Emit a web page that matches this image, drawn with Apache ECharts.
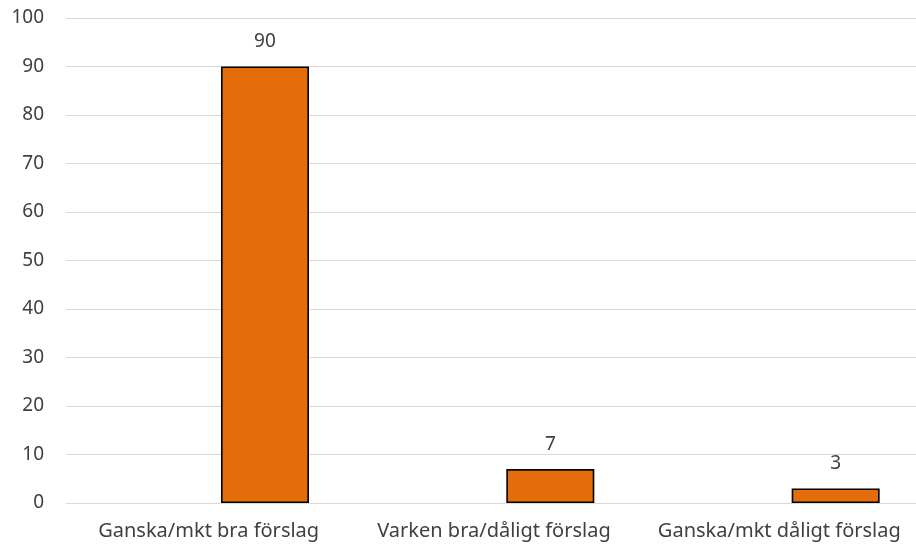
<!DOCTYPE html>
<html>
<head>
<meta charset="utf-8">
<script src="https://cdn.jsdelivr.net/npm/echarts@6/dist/echarts.min.js"></script>
<style>html,body{margin:0;padding:0;background:#fff;overflow:hidden;width:916px;height:544px;}#c{width:922px;height:544px;}</style>
</head>
<body>
<div id="c"></div>
<script>
const categories = ["Ganska/mkt bra förslag", "Varken bra/dåligt förslag", "Ganska/mkt dåligt förslag"];
const emptySeries = [null, null, null];
const values = [90, 7, 3];
const yTicks = [0, 10, 20, 30, 40, 50, 60, 70, 80, 90, 100];

const chart = echarts.init(document.getElementById('c'), null, {renderer: 'canvas'});
const font = '"Noto Sans", sans-serif';
chart.setOption({
  animation: false,
  backgroundColor: '#ffffff',
  grid: {left: 66, right: 0, top: 18, bottom: 41, containLabel: false},
  xAxis: {
    type: 'category',
    data: categories,
    axisLine: {show: true, lineStyle: {color: '#D9D9D9', width: 1}},
    axisTick: {show: false},
    axisLabel: {color: '#404040', fontSize: 20, fontFamily: font, margin: 18, interval: 0}
  },
  yAxis: {
    type: 'value',
    min: yTicks[0],
    max: yTicks[yTicks.length - 1],
    interval: 10,
    axisLine: {show: false},
    axisTick: {show: false},
    splitLine: {lineStyle: {color: '#D9D9D9', width: 1}},
    axisLabel: {color: '#404040', fontSize: 19, fontFamily: font, margin: 22}
  },
  series: [
    {type: 'bar', data: emptySeries, barWidth: 88, barGap: '28%'},
    {
      type: 'bar', data: values, barWidth: 88, barGap: '28%',
      itemStyle: {color: '#E46C0A', borderColor: '#000000', borderWidth: 1.6},
      label: {show: true, position: 'top', distance: 15, color: '#404040', fontSize: 19, fontFamily: font}
    }
  ]
});
</script>
</body>
</html>
